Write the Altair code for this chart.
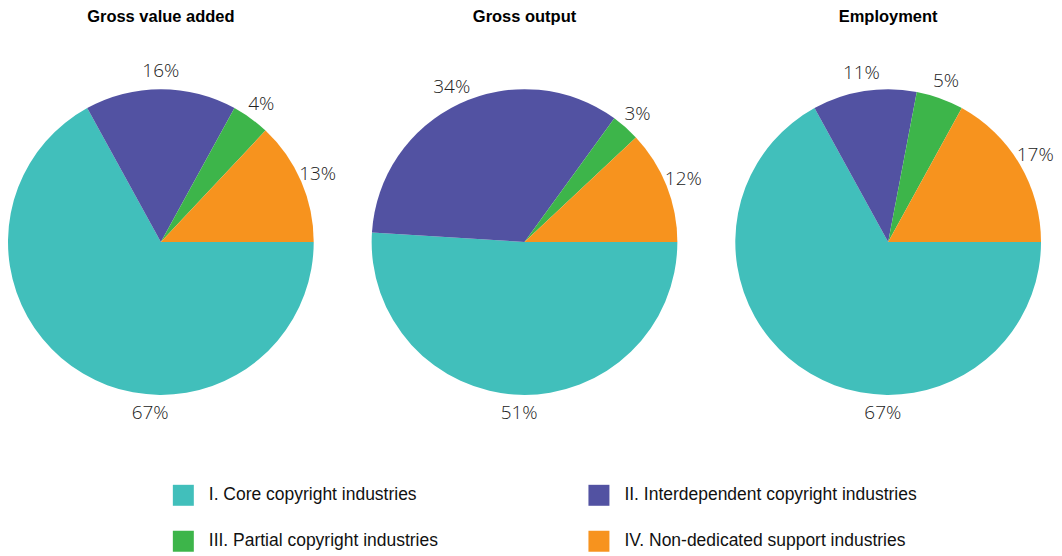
import math
import altair as alt
import pandas as pd

panels = ["Gross value added", "Gross output", "Employment"]
categories = [
    "I. Core copyright industries",
    "II. Interdependent copyright industries",
    "III. Partial copyright industries",
    "IV. Non-dedicated support industries",
]
gross_value_added = [67, 16, 4, 13]
gross_output = [51, 34, 3, 12]
employment = [67, 11, 5, 17]
# where each percentage label sits around its pie (same 0-100 units, from 3 o'clock, clockwise)
gva_label_at = [26, 75, 85, 93.5]
go_label_at = [25.5, 68, 86.5, 94]
emp_label_at = [25.5, 72.5, 80.5, 91.5]
colors = ["#41BFBB", "#5252A2", "#3DB54A", "#F7931E"]

rows = []
for p, vals, pos in zip(
    panels,
    [gross_value_added, gross_output, employment],
    [gva_label_at, go_label_at, emp_label_at],
):
    for i, (c, v, lp) in enumerate(zip(categories, vals, pos)):
        rows.append({"panel": p, "category": c, "ord": i, "value": v,
                     "label_at": lp, "label": f"{v}%"})
df = pd.DataFrame(rows)

SANS = "Liberation Sans, Arial, sans-serif"
LIGHT = "Open Sans, sans-serif"

theta_scale = alt.Scale(domain=[0, 100], range=[math.pi / 2, math.pi / 2 + 2 * math.pi])
order = alt.Order("ord:Q", sort="ascending")


def pie(name):
    base = alt.Chart(df).transform_filter(alt.datum.panel == name)
    arc = base.mark_arc(outerRadius=153).encode(
        theta=alt.Theta("value:Q", stack=True, scale=theta_scale),
        order=order,
        color=alt.Color(
            "category:N",
            scale=alt.Scale(domain=categories, range=colors),
            legend=alt.Legend(title=None),
        ),
    )
    txt = base.mark_text(
        radius=171, font=LIGHT, fontSize=19, fontWeight=300, color="#222222"
    ).encode(
        theta=alt.Theta("label_at:Q", stack=None, scale=theta_scale),
        text="label:N",
    )
    return alt.layer(arc, txt).properties(
        width=306,
        height=418,
        title=alt.TitleParams(
            name, font=SANS, fontSize=16.5, fontWeight="bold", color="#000000",
            anchor="middle", offset=8,
        ),
    )


chart = (
    alt.hconcat(*[pie(p) for p in panels], spacing=58, bounds="flush")
    .properties(padding=0)
    .configure_view(stroke=None)
    .configure_legend(
        orient="none",
        legendX=165,
        legendY=452,
        columns=2,
        direction="horizontal",
        gridAlign="each",
        symbolType="square",
        symbolSize=441,
        symbolStrokeWidth=0,
        labelFont=SANS,
        labelFontSize=17.5,
        labelColor="#111111",
        labelOffset=15,
        labelLimit=400,
        columnPadding=150,
        rowPadding=25,
        padding=0,
    )
)

chart.save("out.html", embed_options={"renderer": "svg", "actions": False})
